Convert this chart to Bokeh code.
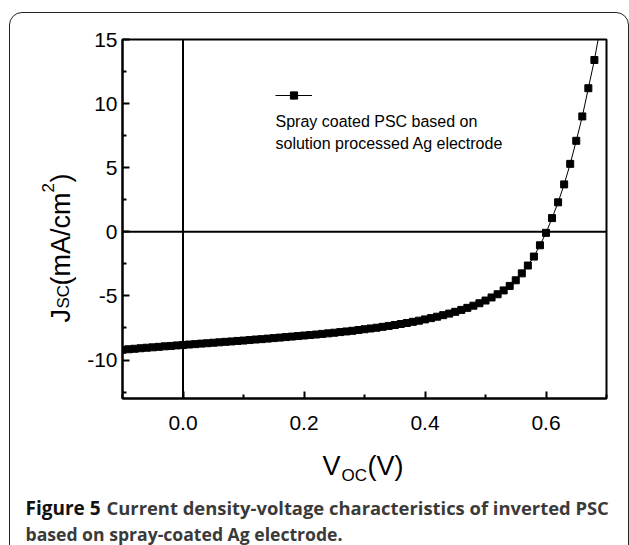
import math
from bokeh.plotting import figure
from bokeh.models import (Span, Label, FixedTicker, Legend, LegendItem,
                          ColumnDataSource, Range1d, InlineStyleSheet)
from bokeh.embed import file_html
from bokeh.resources import INLINE

# ---- data ----
voltage = [-0.10, -0.09, -0.08, -0.07, -0.06, -0.05, -0.04, -0.03, -0.02, -0.01,
           0.00, 0.01, 0.02, 0.03, 0.04, 0.05, 0.06, 0.07, 0.08, 0.09,
           0.10, 0.11, 0.12, 0.13, 0.14, 0.15, 0.16, 0.17, 0.18, 0.19,
           0.20, 0.21, 0.22, 0.23, 0.24, 0.25, 0.26, 0.27, 0.28, 0.29,
           0.30, 0.31, 0.32, 0.33, 0.34, 0.35, 0.36, 0.37, 0.38, 0.39,
           0.40, 0.41, 0.42, 0.43, 0.44, 0.45, 0.46, 0.47, 0.48, 0.49,
           0.50, 0.51, 0.52, 0.53, 0.54, 0.55, 0.56, 0.57, 0.58, 0.59,
           0.60, 0.61, 0.62, 0.63, 0.64, 0.65, 0.66, 0.67, 0.68, 0.69]
current = [-9.20, -9.16, -9.12, -9.08, -9.04, -9.01, -8.97, -8.93, -8.90, -8.86,
           -8.83, -8.79, -8.76, -8.72, -8.69, -8.65, -8.62, -8.58, -8.55, -8.51,
           -8.48, -8.44, -8.40, -8.37, -8.33, -8.29, -8.25, -8.21, -8.17, -8.13,
           -8.09, -8.05, -8.01, -7.96, -7.92, -7.87, -7.82, -7.77, -7.72, -7.66,
           -7.60, -7.54, -7.48, -7.41, -7.34, -7.27, -7.19, -7.11, -7.02, -6.93,
           -6.83, -6.73, -6.62, -6.50, -6.38, -6.24, -6.09, -5.93, -5.76, -5.57,
           -5.36, -5.12, -4.87, -4.57, -4.22, -3.78, -3.24, -2.63, -1.93, -1.05,
           -0.08, 1.07, 2.30, 3.70, 5.30, 7.10, 9.00, 11.20, 13.40, 16.00]

x_major = [0.0, 0.2, 0.4, 0.6]
x_tick_labels = ["0.0", "0.2", "0.4", "0.6"]
x_minor = [-0.1, 0.1, 0.3, 0.5, 0.7]
y_major = [-10, -5, 0, 5, 10, 15]
y_tick_labels = ["-10", "-5", "0", "5", "10", "15"]
y_minor = [-12.5, -7.5, -2.5, 2.5, 7.5, 12.5]

legend_lines = ["Spray coated PSC based on", "solution processed Ag electrode"]
caption_bold = "Figure 5"
caption_line1 = "Current density-voltage characteristics of inverted PSC"
caption_line2 = "based on spray-coated Ag electrode."

FONT = "Liberation Sans"
CAP_FONT = "Open Sans"

box_css = InlineStyleSheet(css="""
:host { position: relative; overflow: hidden; }
:host::after {
  content: ""; position: absolute; left: 9px; top: 12px; width: 619.5px; height: 560px;
  border: 1.5px solid #222; border-radius: 13px; pointer-events: none; box-sizing: border-box;
}
""")

p = figure(width=629, height=545, output_backend="svg", toolbar_location=None,
           x_range=Range1d(-0.1, 0.7), y_range=Range1d(-13, 15),
           min_border_left=122, min_border_right=23, min_border_top=39,
           min_border_bottom=147)
p.stylesheets = [box_css]
p.background_fill_color = "white"
p.border_fill_color = "white"
p.xgrid.visible = False
p.ygrid.visible = False
p.outline_line_color = "black"
p.outline_line_width = 2
p.outline_line_alpha = 1

for ax in (p.xaxis[0], p.yaxis[0]):
    ax.axis_line_width = 2
    ax.axis_line_color = "black"
    ax.major_tick_in = 7
    ax.major_tick_out = 0
    ax.minor_tick_in = 4
    ax.minor_tick_out = 0
    ax.major_tick_line_width = 2
    ax.minor_tick_line_width = 2
    ax.major_label_text_font = FONT
    ax.major_label_text_font_size = "21px"
    ax.major_label_text_color = "black"
    ax.axis_label = None

p.xaxis[0].ticker = FixedTicker(ticks=x_major, minor_ticks=x_minor)
p.yaxis[0].ticker = FixedTicker(ticks=y_major, minor_ticks=y_minor)
p.xaxis[0].major_label_overrides = dict(zip(x_major, x_tick_labels))
p.yaxis[0].major_label_overrides = dict(zip(y_major, y_tick_labels))
p.xaxis[0].major_label_standoff = 17
p.yaxis[0].major_label_standoff = 5

p.add_layout(Span(location=0, dimension="height", line_color="black", line_width=2))
p.add_layout(Span(location=0, dimension="width", line_color="black", line_width=2))

src = ColumnDataSource(dict(v=voltage, j=current))
r_line = p.line("v", "j", source=src, line_color="black", line_width=1)
r_pts = p.scatter("v", "j", source=src, marker="square", size=7,
                  fill_color="black", line_color="black")

legend = Legend(items=[LegendItem(label=" ", renderers=[r_line, r_pts])],
                location=(153, 294), padding=0, margin=0, spacing=0,
                glyph_width=37, glyph_height=18, label_width=0, label_height=18,
                label_standoff=0, border_line_alpha=0, background_fill_alpha=0,
                label_text_font_size="10px")
p.add_layout(legend, "center")

for i, t in enumerate(legend_lines):
    p.add_layout(Label(x=275, y=121 + 22 * i, x_units="canvas", y_units="canvas",
                       text=t, text_font=FONT, text_font_size="16px",
                       text_color="black", text_baseline="alphabetic"))


def lab(x, y, text, size, panel, angle=0.0, font=FONT, color="black", style="normal"):
    p.add_layout(Label(x=x, y=y, x_units="canvas", y_units="canvas", text=text,
                       angle=angle, text_font=font, text_font_size=size,
                       text_font_style=style, text_color=color,
                       text_baseline="alphabetic"), panel)


rot = math.pi / 2
# x-axis title V_OC(V)
lab(322, 465, "V", "27px", "right")
lab(341, 475, "OC", "17px", "above")
lab(367, 465, "(V)", "27px", "below")
# y-axis title J_SC(mA/cm^2)
lab(60, 322, "J", "27px", "left", rot)
lab(63, 308, "SC", "17px", "left", rot)
lab(60, 285, "(mA/cm", "27px", "left", rot)
lab(47, 192, "2", "17px", "above", rot)
lab(60, 182, ")", "27px", "above", rot)
# caption
lab(25, 507, caption_bold, "19px", "below", font=CAP_FONT, color="#111111", style="bold")
lab(106, 507, caption_line1, "18.4px", "below", font=CAP_FONT, color="#3a3a3a", style="bold")
lab(25, 533, caption_line2, "17.6px", "below", font=CAP_FONT, color="#3a3a3a", style="bold")

open("out.html", "w").write(file_html(p, INLINE))
